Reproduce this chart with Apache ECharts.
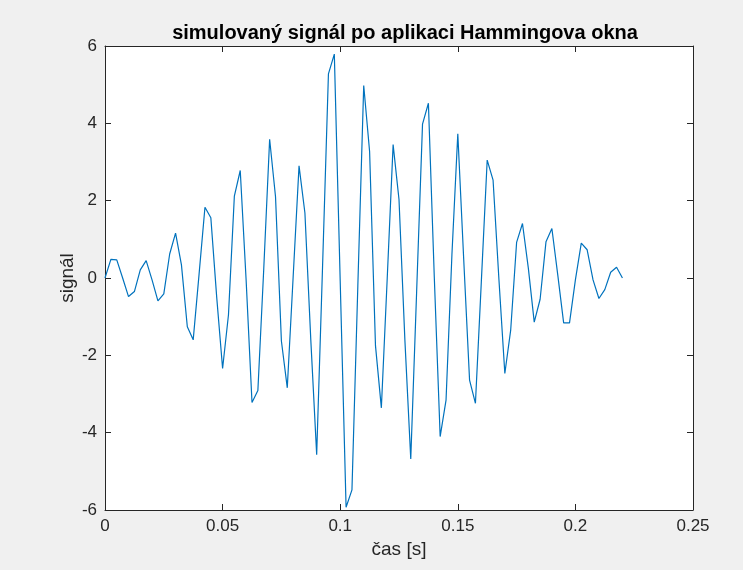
<!DOCTYPE html>
<html>
<head>
<meta charset="utf-8">
<script src="https://cdn.jsdelivr.net/npm/echarts@6/dist/echarts.min.js"></script>
<style>
  html, body { margin: 0; padding: 0; background: #f0f0f0; }
  #chart { width: 743px; height: 570px; }
</style>
</head>
<body>
<div id="chart"></div>
<script>
// Sampling step of the simulated signal (fs = 400 Hz)
const sampleStep = 0.0025;

// Windowed signal samples
const signalValues = [
  0.00, 0.48, 0.47, 0.00, -0.48, -0.35, 0.21, 0.45, -0.05, -0.59,
  -0.41, 0.62, 1.16, 0.34, -1.26, -1.60, 0.10, 1.83, 1.56, -0.50,
  -2.34, -0.95, 2.12, 2.78, -0.05, -3.22, -2.91, 0.24, 3.59, 2.10,
  -1.63, -2.84, 0.03, 2.90, 1.68, -1.60, -4.57, 0.30, 5.28, 5.79,
  -0.08, -5.93, -5.48, -0.20, 4.98, 3.27, -1.75, -3.36, 0.00, 3.45,
  2.03, -1.60, -4.68, -0.35, 3.98, 4.52, 0.03, -4.10, -3.16, 0.60,
  3.73, 0.50, -2.64, -3.24, -0.10, 3.05, 2.53, -0.05, -2.47, -1.34,
  0.92, 1.41, 0.25, -1.14, -0.55, 0.94, 1.28, 0.08, -1.16, -1.16,
  -0.05, 0.90, 0.73, -0.05, -0.53, -0.30, 0.15, 0.28, 0.00
];

// Axis ranges and tick steps
const xRange = [0, 0.25];
const xStep = 0.05;
const yRange = [-6, 6];
const yStep = 2;

const titleText = 'simulovaný signál po aplikaci Hammingova okna';
const xLabel = 'čas [s]';
const yLabel = 'signál';

const points = signalValues.map((v, i) => [+(i * sampleStep).toFixed(4), v]);

const axisColor = '#262626';
const font = 'Liberation Sans, Arial, Helvetica, sans-serif';

const baseLine = { show: true, onZero: false, lineStyle: { color: axisColor, width: 1 } };
const baseTick = { show: true, inside: true, length: 6, lineStyle: { color: axisColor, width: 1 } };

const chart = echarts.init(document.getElementById('chart'), null, { renderer: 'canvas' });
chart.setOption({
  animation: false,
  backgroundColor: '#f0f0f0',
  title: {
    text: titleText,
    left: 400,
    top: 18,
    textAlign: 'center',
    textStyle: { fontFamily: font, fontSize: 20, fontWeight: 'bold', color: '#000' }
  },
  grid: {
    left: 105, right: 50, top: 46, bottom: 60,
    show: true, backgroundColor: '#ffffff', borderWidth: 0
  },
  xAxis: [
    {
      type: 'value', min: xRange[0], max: xRange[1], interval: xStep,
      position: 'bottom',
      name: xLabel, nameLocation: 'middle', nameGap: 30, nameMoveOverlap: false,
      nameTextStyle: { fontFamily: font, fontSize: 19, color: axisColor },
      axisLine: baseLine, axisTick: baseTick,
      axisLabel: { fontFamily: font, fontSize: 17, color: axisColor, margin: 8 },
      splitLine: { show: false }
    },
    {
      type: 'value', min: xRange[0], max: xRange[1], interval: xStep,
      position: 'top',
      axisLine: baseLine, axisTick: baseTick,
      axisLabel: { show: false }, splitLine: { show: false }
    }
  ],
  yAxis: [
    {
      type: 'value', min: yRange[0], max: yRange[1], interval: yStep,
      position: 'left',
      name: yLabel, nameLocation: 'middle', nameGap: 28, nameMoveOverlap: false,
      nameTextStyle: { fontFamily: font, fontSize: 19, color: axisColor },
      axisLine: baseLine, axisTick: baseTick,
      axisLabel: { fontFamily: font, fontSize: 17, color: axisColor, margin: 8 },
      splitLine: { show: false }
    },
    {
      type: 'value', min: yRange[0], max: yRange[1], interval: yStep,
      position: 'right',
      axisLine: baseLine, axisTick: baseTick,
      axisLabel: { show: false }, splitLine: { show: false }
    }
  ],
  series: [{
    type: 'line',
    data: points,
    xAxisIndex: 0,
    yAxisIndex: 0,
    showSymbol: false,
    lineStyle: { color: '#0072BD', width: 1.2 },
    itemStyle: { color: '#0072BD' }
  }]
});
</script>
</body>
</html>
